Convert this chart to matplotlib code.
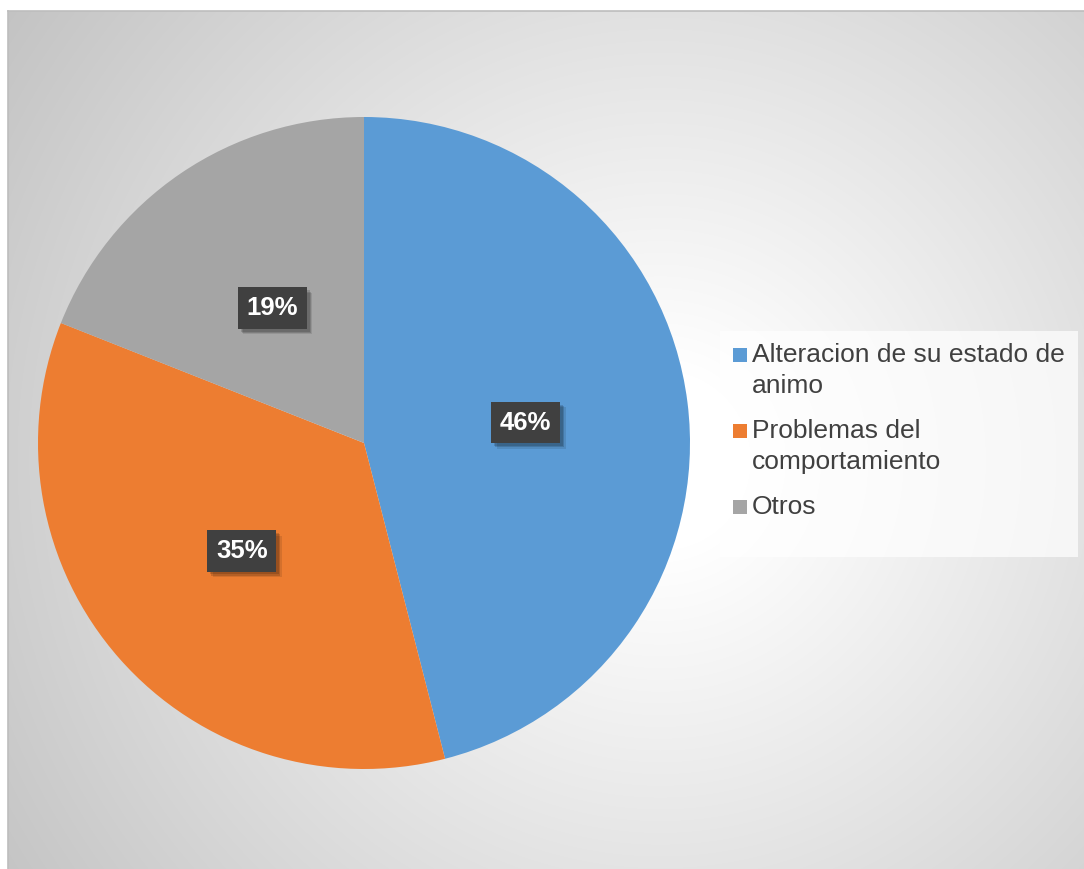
import numpy as np
import matplotlib.pyplot as plt
from matplotlib.patches import Rectangle
import matplotlib.patheffects as pe

plt.rcParams['font.family'] = ['Liberation Sans', 'DejaVu Sans']

categories = ['Alteracion de su estado de\nanimo', 'Problemas del\ncomportamiento', 'Otros']
values = [46, 35, 19]
colors = ['#5B9BD5', '#ED7D31', '#A5A5A5']

W, H = 1084, 869
fig = plt.figure(figsize=(W / 100, H / 100), dpi=100)
fig.patch.set_facecolor('white')


def fx(px):
    return px / W


def fy(py):
    return 1 - py / H


# chart area with radial gray gradient
bg = fig.add_axes([fx(8), 0, 1 - fx(8), fy(11)])
gx, gy = np.meshgrid(np.arange(8, W), np.arange(11, H))
d = np.hypot(gx - 660, gy - 460)
shade = np.clip(255 - 0.085 * np.clip(d - 90, 0, None), 192, 255) / 255.0
bg.imshow(np.dstack([shade] * 3), aspect='auto', extent=[0, 1, 0, 1])
bg.set_xticks([])
bg.set_yticks([])
for side in ['right', 'bottom']:
    bg.spines[side].set_visible(False)
for side in ['top', 'left']:
    bg.spines[side].set_color('#bdbdbd')
    bg.spines[side].set_linewidth(1.2)

# pie
cx, cy, r = 364, 443, 326
ax = fig.add_axes([fx(cx - r), fy(cy + r), 2 * r / W, 2 * r / H])
ax.set_facecolor('none')
wedges, texts, autotexts = ax.pie(
    values, colors=colors, startangle=90, counterclock=False,
    autopct='%1.0f%%', pctdistance=0.5, radius=1,
    wedgeprops=dict(linewidth=0),
    textprops=dict(color='white', fontsize=18.5, fontweight='bold'))
ax.set_xlim(-1, 1)
ax.set_ylim(-1, 1)
ax.set_aspect('equal')
ax.axis('off')

# dark label boxes with a soft drop shadow
for t in autotexts:
    t.set_bbox(dict(boxstyle='square,pad=0.34', fc='#404040', ec='none'))
    t.get_bbox_patch().set_path_effects([
        pe.withSimplePatchShadow(offset=(4, -4), shadow_rgbFace='black', alpha=0.10),
        pe.withSimplePatchShadow(offset=(3, -3), shadow_rgbFace='black', alpha=0.15),
        pe.withSimplePatchShadow(offset=(2, -2), shadow_rgbFace='black', alpha=0.15),
        pe.Normal()])

# legend box
fig.patches.append(Rectangle((fx(720), fy(557)), fx(1078) - fx(720), fy(331) - fy(557),
                             transform=fig.transFigure, fc='white', alpha=0.7, ec='none'))
baseline = 362
for lab, col in zip(categories, colors):
    fig.patches.append(Rectangle((fx(733), fy(baseline)), 14 / W, 14 / H,
                                 transform=fig.transFigure, fc=col, ec='none'))
    lines = lab.split('\n')
    for i, line in enumerate(lines):
        fig.text(fx(752), fy(baseline + 31 * i), line, fontsize=19, color='#404040',
                 va='baseline', ha='left')
    baseline += 31 * (len(lines) - 1) + 45

fig.savefig('out.png', dpi=100)
